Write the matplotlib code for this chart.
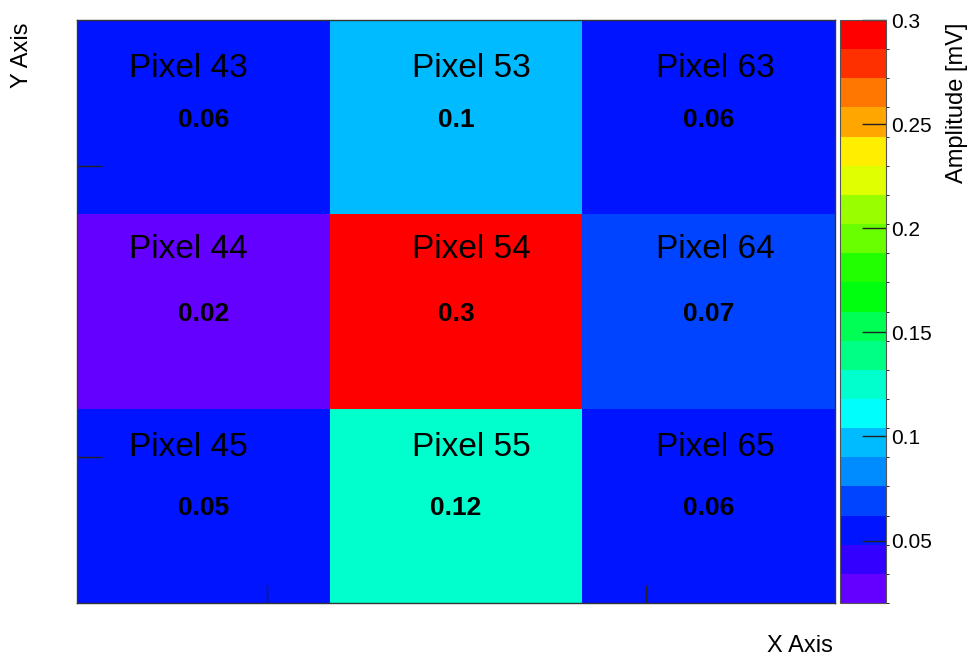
import colorsys
import numpy as np
import matplotlib
matplotlib.use("Agg")
import matplotlib.pyplot as plt
from matplotlib.colors import ListedColormap, BoundaryNorm
from matplotlib.ticker import FormatStrFormatter

plt.rcParams['font.family'] = ['Liberation Sans', 'DejaVu Sans']

# pixel grid, rows listed top to bottom
columns = [4, 5, 6]
rows = [3, 4, 5]
amplitude = np.array([[0.06, 0.10, 0.06],
                      [0.02, 0.30, 0.07],
                      [0.05, 0.12, 0.06]])
cbar_ticks = [0.05, 0.1, 0.15, 0.2, 0.25, 0.3]

# ROOT "pretty" palette (violet -> red, 50 colours), 20 contour levels
n_pal = 50
palette = [colorsys.hls_to_rgb((280 - (i + 1) * 280 / n_pal) / 360, 0.5, 1) for i in range(n_pal)]
n_lev = 20
band_colors = [palette[int((k + 0.99) * n_pal / n_lev)] for k in range(n_lev)]
cmap = ListedColormap(band_colors)
cmap.set_over(band_colors[-1])
zmin, zmax = amplitude.min(), amplitude.max()
norm = BoundaryNorm(np.linspace(zmin, zmax, n_lev + 1), n_lev)

fig = plt.figure(figsize=(9.69, 6.56), dpi=100)
ax = fig.add_axes([77/969, 53/656, 758/969, 583/656])
cax = fig.add_axes([840/969, 53/656, 46/969, 583/656])

x_edges = np.arange(len(columns) + 1)
y_edges = np.arange(len(rows) + 1)
mesh = ax.pcolormesh(x_edges, y_edges, amplitude, cmap=cmap, norm=norm)
ax.set_xlim(0, 3)
ax.set_ylim(3, 0)

# text inside each cell
label_dx = [-0.061, 0.061, 0.025]
label_dy = [0.293, 0.225, 0.243]
for r, row in enumerate(rows):
    for c, col in enumerate(columns):
        ax.text(c + 0.5 + label_dx[c], r + label_dy[r], f"Pixel {col}{row}",
                ha='center', va='baseline', fontsize=24, color='black')
        ax.text(c + 0.5, r + 0.549, f"{amplitude[r, c]:g}",
                ha='center', va='baseline', fontsize=19, fontweight='bold', color='black')

ax.set_xticks([0.75, 2.25])
ax.set_yticks([0.75, 2.25])
ax.set_xticklabels([])
ax.set_yticklabels([])
ax.tick_params(axis='x', direction='in', length=13, width=1, color='#222222')
ax.tick_params(axis='y', direction='in', length=18, width=1, color='#222222')
for s in ax.spines.values():
    s.set_color('#333333')
    s.set_linewidth(1)

cb = fig.colorbar(mesh, cax=cax, ticks=cbar_ticks)
cb.ax.yaxis.set_major_formatter(FormatStrFormatter('%g'))
cb.ax.tick_params(direction='in', length=17, width=1, labelsize=15, pad=4, color='#222222')
cb.outline.set_edgecolor('#555555')
cb.outline.set_linewidth(0.8)

fig.text(833/969, 4/656, "X Axis", ha='right', va='baseline', fontsize=17)
fig.text(22/969, 1 - 23/656, "Y Axis", ha='center', va='top', rotation=90, fontsize=17)
fig.text(957/969, 1 - 23/656, "Amplitude [mV]", ha='center', va='top', rotation=90, fontsize=17)

fig.savefig("out.png", dpi=100)
